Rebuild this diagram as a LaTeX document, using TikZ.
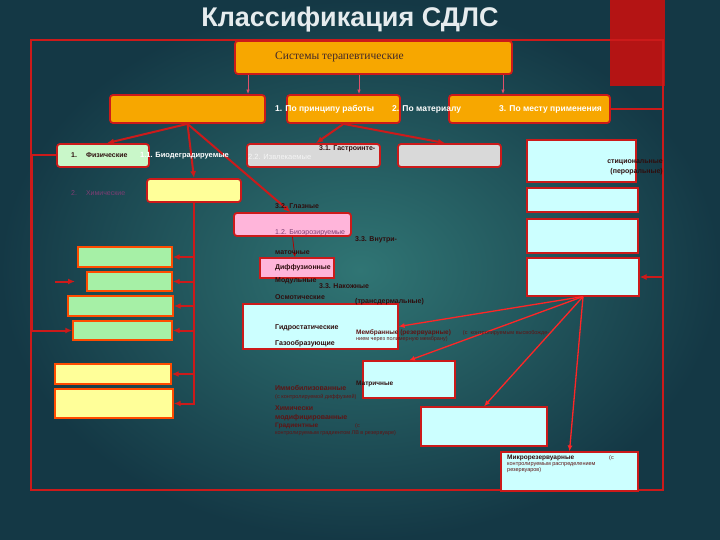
\documentclass[tikz,border=0pt]{standalone}
\usepackage{fontspec}
\setmainfont{Liberation Sans}
\newfontfamily\serifface{Liberation Serif}
\usetikzlibrary{arrows.meta}

\definecolor{bgmid}{HTML}{307574}
\definecolor{bgedge}{HTML}{143845}
\definecolor{framered}{HTML}{CC1A1A}
\definecolor{barred}{HTML}{B41414}
\definecolor{boxorange}{HTML}{F7A700}
\definecolor{boxgreen}{HTML}{C9F7C9}
\definecolor{leafgreen}{HTML}{A6F0A6}
\definecolor{boxgrey}{HTML}{D9D9D9}
\definecolor{boxyellow}{HTML}{FFFF99}
\definecolor{boxpink}{HTML}{FFB5DA}
\definecolor{boxcyan}{HTML}{CCFFFF}
\definecolor{darktext}{HTML}{2E0E0E}
\definecolor{maroon}{HTML}{5E1414}
\definecolor{fadedpurple}{HTML}{7D3D73}
\definecolor{titlegrey}{HTML}{E6ECEE}
\definecolor{thinred}{HTML}{E0506A}

\begin{document}
\begin{tikzpicture}[x=1pt, y=-1pt,
    base/.style={inner sep=0pt, draw=framered},
    roundbox/.style={base, line width=1.8pt, rounded corners=3pt},
    orangebox/.style={roundbox, fill=boxorange},
    greenbox/.style={roundbox, fill=boxgreen},
    greybox/.style={roundbox, fill=boxgrey},
    yellowbox/.style={roundbox, fill=boxyellow},
    pinkbox/.style={roundbox, fill=boxpink},
    cyanbox/.style={base, line width=1.2pt, fill=boxcyan},
    leafbox/.style={base, draw=orange!60!red, line width=1.4pt, fill=leafgreen},
    leafyellow/.style={base, draw=orange!60!red, line width=1.4pt, fill=boxyellow},
    arrow/.style={-{Latex[length=7pt,width=6pt]}, line width=2pt, draw=framered},
    midarrow/.style={-{Latex[length=6pt,width=5pt]}, line width=1.3pt, draw=red!85!white},
    thinarrow/.style={-{Latex[length=4.5pt,width=3.5pt]}, line width=0.8pt, draw=thinred},
    lbl/.style={anchor=west, inner sep=0pt, text=darktext,
      font=\fontsize{7}{8}\selectfont\bfseries},
    small/.style={anchor=west, inner sep=0pt, text=maroon, align=left,
      font=\fontsize{5.5}{6}\selectfont},
    whitelbl/.style={lbl, text=white, font=\fontsize{8.5}{9}\selectfont\bfseries}
  ]
    \useasboundingbox (0,0) rectangle (720,540);
    \shade[inner color=bgmid, outer color=bgedge] (0,0) rectangle (720,540);
    \fill[barred] (610,0) rectangle (665,86);
    \draw[framered, line width=1.4pt] (31,40) rectangle (663,490);
    \coordinate (leftbus) at (32,0);
    \coordinate (rightbus) at (663,0);

    \node[font=\fontsize{27}{30}\selectfont\bfseries, text=titlegrey] (title) at (350,20) {Классификация СДЛС};

    % top levels
    \node[orangebox, minimum width=277pt, minimum height=33pt] (sys) at (373.5,57.5) {};
    \node[orangebox, minimum width=155pt, minimum height=28pt] (principle) at (187.5,109) {};
    \node[orangebox, minimum width=113pt, minimum height=28pt] (material) at (343.5,109) {};
    \node[orangebox, minimum width=161pt, minimum height=28pt] (site) at (529.5,109) {};

    \node[greenbox, minimum width=92pt, minimum height=23pt] (phys) at (103,155.5) {};
    \node[greybox, minimum width=133pt, minimum height=23pt] (removable) at (313.5,155.5) {};
    \node[greybox, minimum width=103pt, minimum height=23pt] (grey2) at (449.5,155.5) {};
    \node[yellowbox, minimum width=94pt, minimum height=23pt] (chem) at (194,190.5) {};
    \node[pinkbox, minimum width=117pt, minimum height=23pt] (eye) at (292.5,224.5) {};
    \node[base, line width=1.4pt, fill=boxpink, minimum width=74pt, minimum height=20pt] (diff) at (297,268) {};

    % right column
    \node[cyanbox, minimum width=109pt, minimum height=42pt] (oral) at (581.5,161) {};
    \node[cyanbox, minimum width=111pt, minimum height=24pt] (rc2) at (582.5,200) {};
    \node[cyanbox, minimum width=111pt, minimum height=34pt] (rc3) at (582.5,236) {};
    \node[cyanbox, minimum width=112pt, minimum height=38pt] (rc4) at (583,277) {};

    \node[cyanbox, minimum width=155pt, minimum height=45pt] (membr) at (320.5,326.5) {};
    \node[cyanbox, minimum width=92pt, minimum height=37pt] (matrix) at (409,379.5) {};
    \node[cyanbox, minimum width=126pt, minimum height=39pt] (grad) at (484,426.5) {};
    \node[cyanbox, minimum width=137pt, minimum height=39pt] (micro) at (569.5,471.5) {};

    % left column
    \node[leafbox, minimum width=94pt, minimum height=20pt] (g1) at (125,257) {};
    \node[leafbox, minimum width=85pt, minimum height=19pt] (g2) at (129.5,281.5) {};
    \node[leafbox, minimum width=105pt, minimum height=20pt] (g3) at (120.5,306) {};
    \node[leafbox, minimum width=99pt, minimum height=19pt] (g4) at (122.5,330.5) {};
    \node[leafyellow, minimum width=116pt, minimum height=20pt] (y1) at (113,374) {};
    \node[leafyellow, minimum width=118pt, minimum height=29pt] (y2) at (114,403.5) {};
    \coordinate (stubA) at (55,281.5);
    \coordinate (stubB) at (75,281.5);

    % connectors
    \draw[thinarrow] ([xshift=-125.5pt]sys.south) -- ([xshift=60.5pt]principle.north);
    \draw[thinarrow] ([xshift=-14.5pt]sys.south) -- ([xshift=15.5pt]material.north);
    \draw[thinarrow] ([xshift=129.5pt]sys.south) -- ([xshift=-26.5pt]site.north);

    \draw[arrow] (principle.south) -- ([xshift=4pt]phys.north);
    \draw[arrow] (principle.south) -- (chem.north);
    \draw[arrow] (principle.south) -- ([xshift=-2pt]eye.north);
    \draw[arrow] (material.south) -- ([xshift=2.5pt]removable.north);
    \draw[arrow] (material.south) -- ([xshift=-4.5pt]grey2.north);
    \draw[thinarrow, draw=red!70!black] (eye.south) -- ([xshift=-2pt]diff.north);

    \draw[arrow] (chem.south) |- (y2.east);
    \foreach \b in {g1,g2,g3,g4,y1}
      \draw[arrow] (chem.south |- \b.east) -- (\b.east);
    \draw[arrow] (phys.west) -- (phys.west -| leftbus) |- (g4.west);
    \draw[arrow] (stubA) -- (stubB);

    \draw[arrow] (site.east) -- (site.east -| rightbus) |- (rc4.east);
    \foreach \t in {membr.east, matrix.north, grad.north, micro.north}
      \draw[midarrow] (rc4.south) -- (\t);

    % labels
    \node[anchor=west, inner sep=0pt, font=\serifface\fontsize{11.5}{12}\selectfont, text=darktext!75!gray] (sysname) at (275,57) {Системы терапевтические};
    \node[whitelbl] (t1) at (275,109) {1. По принципу работы};
    \node[whitelbl] (t2) at (392,109) {2. По материалу};
    \node[whitelbl] (t3) at (499,109) {3. По месту применения};

    \node[lbl] (tphys) at (71,155.5) {1.\hspace*{9pt}Физические};
    \node[lbl, text=white, font=\fontsize{7.5}{8}\selectfont\bfseries] (tbio) at (140,155.5) {1.1. Биодеградируемые};
    \node[lbl, text=white!92!gray, font=\fontsize{7.5}{8}\selectfont] (trem) at (248,157) {2.2. Извлекаемые};
    \node[lbl] (tgastro) at (319,149) {3.1. Гастроинте-};
    \node[lbl, text=fadedpurple, font=\fontsize{7}{8}\selectfont] (tchem) at (71,193) {2.\hspace*{9pt}Химические};
    \node[anchor=east, inner sep=0pt, text=darktext, align=right, font=\fontsize{7}{10}\selectfont\bfseries] (toral) at (663,167) {стициональные\\(пероральные)};

    \node[lbl] (teye) at (275,206) {3.2. Глазные};
    \node[lbl, text=fadedpurple, font=\fontsize{7}{8}\selectfont] (terod) at (275,233) {1.2. Биоэрозируемые};
    \node[lbl] (tintra) at (355,240) {3.3. Внутри-};
    \node[lbl] (tuter) at (275,253) {маточные};
    \node[lbl] (tdiff) at (275,268) {Диффузионные};
    \node[lbl] (tmod) at (275,281) {Модульные};
    \node[lbl] (tskin) at (319,286) {3.3. Накожные};
    \node[lbl] (tosm) at (275,297) {Осмотические};
    \node[lbl] (ttrans) at (355,302) {(трансдермальные)};
    \node[lbl] (thydro) at (275,328) {Гидростатические};
    \node[lbl] (tgas) at (275,344) {Газообразующие};
    \node[small] (tmembr) at (356,336) {\textbf{\fontsize{6.5}{6}\selectfont Мембранные (резервуарные)}\hspace*{12pt}(с\ \ контролируемым высвобожде-\\нием через полимерную мембрану)};

    \node[lbl, text=maroon] (timmob) at (275,388) {Иммобилизованные};
    \node[small] (timmob2) at (275,397) {(с контролируемой диффузией)};
    \node[lbl, text=darktext, font=\fontsize{6.5}{8}\selectfont\bfseries] (tmatrix) at (356,384) {Матричные};
    \node[lbl, text=maroon] (tchem1) at (275,408) {Химически};
    \node[lbl, text=maroon] (tchem2) at (275,418) {модифицированные};
    \node[lbl, text=maroon, font=\fontsize{6.5}{8}\selectfont\bfseries] (tgrad) at (275,426) {Градиентные};
    \node[small] (tgrad2) at (355,426) {(с};
    \node[small] (tgrad3) at (275,433) {контролируемым градиентом ЛВ в  резервуаре)};

    \node[lbl, text=darktext, font=\fontsize{6.5}{8}\selectfont\bfseries] (tmicro) at (507,458) {Микрорезервуарные};
    \node[small] (tmicro2) at (609,458) {(с};
    \node[small, anchor=north west] (tmicro3) at (507,462) {контролируемым распределением\\резервуаров)};
  \end{tikzpicture}
\end{document}
